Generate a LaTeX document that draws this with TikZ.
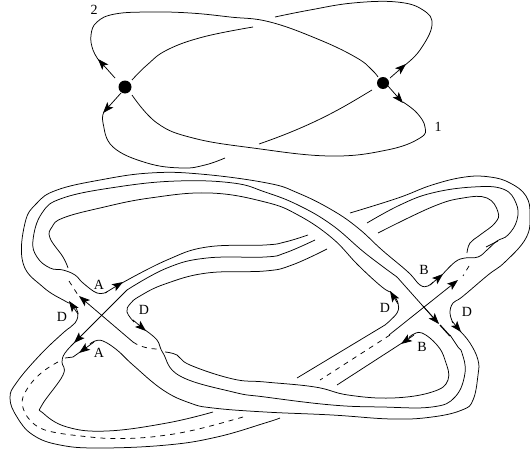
\documentclass[tikz,border=0pt]{standalone}
\usepackage{fontspec}
\setmainfont{Liberation Serif}
\usetikzlibrary{arrows.meta}
\tikzset{
  x=1pt,y=-1pt,
  ln/.style={line width=0.75pt,black,line join=round},
  dsh/.style={ln,dash pattern=on 5pt off 5pt},
  arr/.style={ln,-{Stealth[length=11pt,width=8pt,inset=2.5pt]}},
  lbl/.style={inner sep=0pt,font=\fontsize{14}{15}\selectfont},
  dot/.style={circle,fill=black,inner sep=0pt}
}
\newcommand\crv[1]{plot[smooth,tension=.7] coordinates {#1}}
\begin{document}
\begin{tikzpicture}
\useasboundingbox (0,0) rectangle (530,455);
% --- top figure
\node[dot,minimum size=13pt] (L) at (125,87) {};
\node[dot,minimum size=12pt] (R) at (383,83) {};
\draw[ln] \crv{(100,62)(93,50)(91,35)(97,22)(115,14)(150,12)(190,13)(230,17)(270,22)(320,40)(357,58)(372,70)(378,77)};
\draw[arr] (115,78) -- (98,59);
\draw[ln] \crv{(405,65)(420,50)(432,25)(423,10)(397,2)(353,3)(310,10)(275,17)};
\draw[arr] (390,78) -- (406,64);
\draw[ln] \crv{(132,80)(147,65)(167,50)(203,37)(253,27)};
\draw[ln] \crv{(104,112)(103,123)(113,147)(147,163)(182,168)(205,165)(225,158)};
\draw[arr] (121,93) -- (103,113);
\draw[ln] \crv{(132,95)(157,123)(193,138)(253,148)(330,156)(387,150)(420,138)(425,127)(417,113)(403,102)};
\draw[arr] (388,86) -- (403,103);
\draw[ln] (372,90) .. controls (350,103) and (320,123) .. (259,144);
\node[lbl] (n2) at (94,10) {2};
\node[lbl] (n1) at (438,127) {1};
% --- lower figure: outer right strand
\draw[ln] \crv{(350,213)(398,198)(432,185)(465,177)(490,177)(510,183)(526,196)(530,215)(526,238)(505,262)(488,275)(462,297)(453,303)(450,313)(453,323)};
\draw[arr] (452,321) -- (461,332);
\draw[ln] \crv{(460,331)(470,343)(478,360)(478,375)(473,400)(462,410)(432,417)(392,419)(332,415)(265,412)(213,408)(190,403)(163,390)(133,365)(117,350)(103,341)(95,341)(90,344)};
\draw[arr] (94,342) -- (79,353);
\draw[ln] (80,352) -- (73,357) -- (65,358);
% outer left loop
\draw[ln] \crv{(280,418)(265,423)(217,437)(167,445)(100,448)(60,445)(33,435)(17,417)(10,398)(17,382)(40,355)(63,333)(75,323)(78,313)(75,307)};
\draw[arr] (78,314) -- (69,301);
\draw[ln] \crv{(70,303)(65,301)(43,287)(23,263)(25,223)(37,203)(57,190)(100,180)(150,173)(200,174)(267,183)(298,193)(332,210)(358,228)(382,250)(408,272)(420,285)(428,286)(433,282)};
\draw[arr] (430,285) -- (443,274);
\draw[ln] \crv{(442,275)(455,262)(465,258)(478,257)(487,250)(497,241)(508,235)(517,220)(516,203)(503,189)(473,187)(432,193)(400,205)(367,223)};
\draw[ln] (486,247) -- (498,241);
% middle strand into crossing
\draw[ln] \crv{(315,240)(285,253)(265,257)(207,258)(167,268)(127,290)};
\draw[arr] (127,290) -- (74,343);
\draw[ln] \crv{(75,342)(65,353)(62,362)(63,375)(42,405)(43,413)(67,427)(107,431)(167,423)(213,412)};
% inner line
\draw[ln] (297,378) -- (385,325);
\draw[ln] \crv{(385,325)(397,313)(398,303)(394,296)};
\draw[arr] (398,304) -- (390,291);
\draw[ln] \crv{(391,292)(382,287)(358,265)(332,238)(298,215)(265,202)(210,193)(150,198)(100,208)(63,218)(52,227)(50,238)(63,257)(68,268)};
\draw[dsh] (69,281) -- (78,295);
\draw[arr] (133,342) -- (79,296);
\draw[dsh] (133,342) .. controls (140,347) and (150,349) .. (158,349);
\draw[ln] \crv{(165,352)(177,355)(190,365)(233,379)(265,382)(315,387)(348,395)(392,398)(432,392)(448,380)(445,360)(437,345)(422,333)(412,335)(409,338)};
\draw[arr] (414,335) -- (401,344);
\draw[ln] (402,343) -- (337,385);
% A strand
\draw[ln] \crv{(122,283)(167,260)(207,247)(265,245)(285,242)(308,235)};
\draw[arr] (105,293) -- (123,282);
\draw[ln] \crv{(107,292)(97,293)(83,283)(75,275)(63,270)(50,268)(37,257)(33,240)(42,213)(63,198)(117,187)(177,181)(233,183)(265,192)(298,205)(332,225)(365,253)(397,277)};
\draw[ln] (397,277) -- (438,323);
\draw[arr] (423,306) -- (439,324);
\draw[ln,line width=1.3pt] (440,325) -- (450,336);
\draw[ln] \crv{(450,335)(458,347)(462,353)(465,373)(455,397)(432,407)(382,407)(332,405)(265,397)(233,392)(180,376)(163,353)(157,340)(145,330)};
\draw[arr] (133,320) -- (146,331);
\draw[ln] \crv{(134,322)(127,312)(130,304)(140,296)(165,284)(207,273)(265,271)(292,265)(327,249)};
% inner right
\draw[ln] \crv{(378,233)(432,207)(463,198)(487,198)(498,212)(495,223)(480,235)(470,243)(467,253)};
\draw[dsh] (469,266) -- (463,276);
\draw[arr] (389,335) -- (458,280);
\draw[dsh] (390,335) -- (320,380);
% bottom dashed
\draw[dsh] (243,417) .. controls (215,425) and (190,432) .. (167,435) .. controls (140,439) and (120,439) .. (100,438) .. controls (70,435) and (50,433) .. (40,428) .. controls (25,420) and (20,405) .. (23,397) .. controls (30,380) and (45,368) .. (62,360);
% labels
\node[lbl] (a1) at (99,285) {A};
\node[lbl] (a2) at (99,353) {A};
\node[lbl] (d1) at (62,317) {D};
\node[lbl] (d2) at (144,310) {D};
\node[lbl] (b1) at (424,270) {B};
\node[lbl] (b2) at (422,347) {B};
\node[lbl] (d3) at (385,308) {D};
\node[lbl] (d4) at (467,312) {D};
\end{tikzpicture}
\end{document}
